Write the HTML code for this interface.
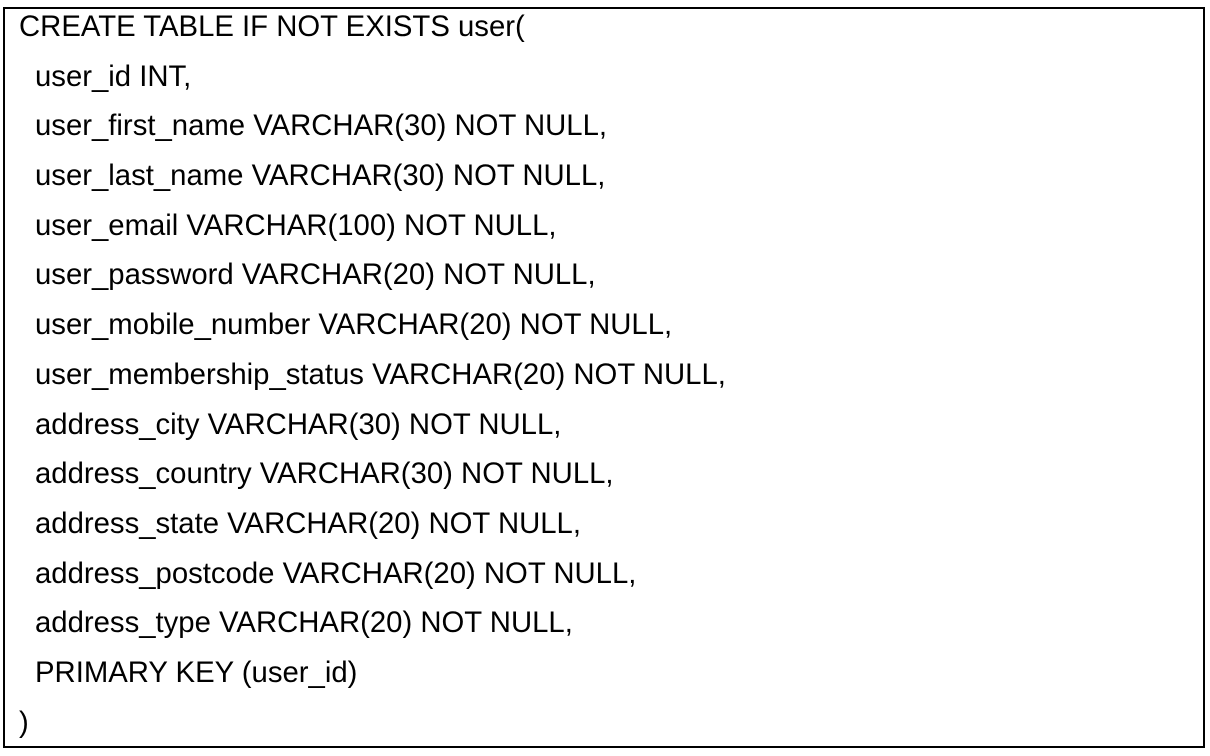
<!DOCTYPE html>
<html><head><meta charset="utf-8"><style>
html,body{margin:0;padding:0;background:#fff;width:1210px;height:756px;overflow:hidden}
.box{position:absolute;left:3px;top:7px;width:1198px;height:737px;border:2px solid #000}
.t{position:absolute;left:0;top:2px;font-family:"Liberation Sans",Arial,sans-serif;font-size:29.3px;line-height:49.7px;color:#000;white-space:nowrap}
.t div{padding-left:35px;height:49.7px}
.t div.f{padding-left:19px}
</style></head><body>
<div class="box"></div>
<div class="t"><div class="f">CREATE TABLE IF NOT EXISTS user(</div><div>user_id INT,</div><div>user_first_name VARCHAR(30) NOT NULL,</div><div>user_last_name VARCHAR(30) NOT NULL,</div><div>user_email VARCHAR(100) NOT NULL,</div><div>user_password VARCHAR(20) NOT NULL,</div><div>user_mobile_number VARCHAR(20) NOT NULL,</div><div>user_membership_status VARCHAR(20) NOT NULL,</div><div>address_city VARCHAR(30) NOT NULL,</div><div>address_country VARCHAR(30) NOT NULL,</div><div>address_state VARCHAR(20) NOT NULL,</div><div>address_postcode VARCHAR(20) NOT NULL,</div><div>address_type VARCHAR(20) NOT NULL,</div><div>PRIMARY KEY (user_id)</div><div class="f">)</div></div>
</body></html>
